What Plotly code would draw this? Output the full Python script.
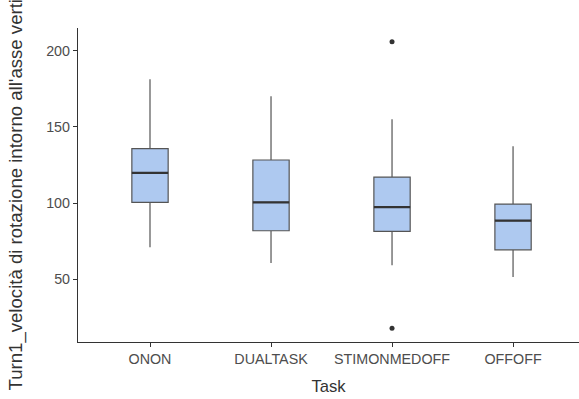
import plotly.graph_objects as go

tasks = ["ONON", "DUALTASK", "STIMONMEDOFF", "OFFOFF"]
lower_whisker = [71.0, 60.7, 59.2, 51.5]
q1 = [100.5, 81.9, 81.5, 69.4]
median = [119.8, 100.5, 97.4, 88.5]
q3 = [135.7, 128.3, 117.1, 99.4]
upper_whisker = [181.2, 170.1, 155.0, 137.3]
outlier_task = ["STIMONMEDOFF", "STIMONMEDOFF"]
outlier_value = [205.9, 18.0]

y_ticks = [50, 100, 150, 200]

pos = list(range(len(tasks)))
box_w = 0.3
FONT = "Liberation Sans, Arial, Helvetica, sans-serif"

fig = go.Figure()
fig.add_trace(go.Box(
    x=pos, q1=q1, median=median, q3=q3,
    lowerfence=lower_whisker, upperfence=upper_whisker,
    width=box_w,
    fillcolor="#aec9f0",
    line=dict(color="#555555", width=1.2),
    whiskerwidth=0,
    boxpoints=False,
    showlegend=False,
    hoverinfo="skip",
))

# thicker median segments
mx, my = [], []
for i, m in enumerate(median):
    mx += [i - box_w / 2, i + box_w / 2, None]
    my += [m, m, None]
fig.add_trace(go.Scatter(
    x=mx, y=my, mode="lines",
    line=dict(color="#333333", width=2.2),
    showlegend=False, hoverinfo="skip",
))

fig.add_trace(go.Scatter(
    x=[tasks.index(t) for t in outlier_task], y=outlier_value,
    mode="markers",
    marker=dict(color="#333333", size=5),
    showlegend=False, hoverinfo="skip",
))

fig.update_layout(
    width=579, height=399,
    margin=dict(l=78, r=0, t=28, b=57),
    paper_bgcolor="white", plot_bgcolor="white",
    font=dict(family=FONT),
    xaxis=dict(
        range=[-0.595, 3.545],
        tickmode="array", tickvals=pos, ticktext=tasks,
        showgrid=False, zeroline=False,
        showline=True, linecolor="#333333", linewidth=1.2,
        ticks="outside", ticklen=4, tickcolor="#333333", tickwidth=1.2,
        tickfont=dict(size=14.3, color="#4d4d4d"),
        title=dict(text="Task", font=dict(size=16.6, color="#333333"), standoff=14),
    ),
    yaxis=dict(
        range=[8.9, 214.9],
        tickmode="array", tickvals=y_ticks,
        showgrid=False, zeroline=False,
        showline=True, linecolor="#333333", linewidth=1.2,
        ticks="outside", ticklen=4, tickcolor="#333333", tickwidth=1.2,
        tickfont=dict(size=14.3, color="#4d4d4d"),
    ),
)

fig.add_annotation(
    text="Turn1_velocità di rotazione intorno all'asse verti",
    xref="paper", yref="paper",
    x=-78 / 501 + 15 / 501, y=-(393 - 342) / 314,
    xanchor="center", yanchor="bottom",
    textangle=-90, showarrow=False,
    font=dict(size=18.6, color="#333333", family=FONT),
)

fig.write_html("out.html")
